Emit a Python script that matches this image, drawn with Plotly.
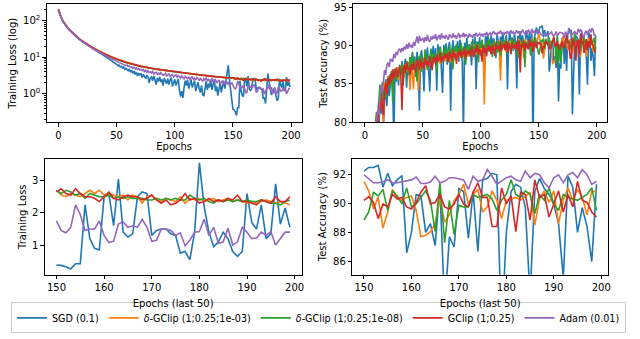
import plotly.graph_objects as go

epochs = list(range(200))
last_epochs = list(range(150, 200))

names = ["SGD (0.1)", "<i>δ</i>-GClip (1;0.25;1e-03)", "<i>δ</i>-GClip (1;0.25;1e-08)",
         "GClip (1;0.25)", "Adam (0.01)"]
colors = ["#1f77b4", "#ff7f0e", "#2ca02c", "#d62728", "#9467bd"]

# training loss, epochs 0-149
sgd_loss_first = [
    190, 152, 124, 106, 92, 82, 74, 67, 61, 56.5,
    52, 48.5, 45, 42, 39.5, 37, 34.5, 32.5, 30.5, 29,
    27.5, 26, 24.8, 23.6, 22.5, 21.4, 20.4, 19.5, 18.6, 17.8,
    17, 16.2, 15.5, 14.8, 14.2, 13.5, 13, 12.3, 11.9, 11.2,
    10.8, 10.1, 9.8, 9.1, 8.8, 8.2, 8.0, 7.3, 7.2, 6.6,
    6.5, 5.9, 6.1, 5.5, 5.7, 5.1, 5.4, 4.7, 5.0, 4.6,
    4.3, 4.8, 3.9, 4.4, 3.6, 4.2, 3.4, 3.9, 3.1, 3.7,
    3.3, 3.6, 2.8, 3.4, 3.0, 2.6, 3.3, 2.9, 2.0, 2.7,
    2.9, 2.3, 3.1, 2.5, 1.8, 2.7, 2.2, 2.9, 2.1, 2.5,
    1.7, 2.7, 2.3, 1.9, 2.6, 1.8, 2.4, 2.8, 1.6, 2.2,
    2.5, 1.7, 2.0, 2.6, 1.3, 0.85, 1.2, 0.78, 1.5, 2.3,
    1.7, 2.4, 1.4, 2.0, 2.5, 1.5, 1.9, 2.3, 1.2, 1.8,
    2.1, 1.4, 1.1, 1.7, 0.95, 0.88, 1.5, 2.2, 1.3, 1.9,
    1.5, 2.4, 1.3, 1.7, 2.5, 1.2, 1.6, 0.9, 1.4, 2.0,
    1.1, 1.8, 2.3, 1.4, 2.6, 4.2, 6.0, 2.4, 1.1, 0.7]
dgc3_loss_first = [
    201, 161, 131, 111, 97, 85.5, 76.5, 69.5, 63.5, 58.5,
    54.3, 50.3, 46.8, 43.7, 40.8, 38.2, 35.7, 33.6, 31.6, 29.9,
    28.3, 26.9, 25.5, 24.3, 23.2, 22.1, 21.1, 20.2, 19.3, 18.5,
    17.7, 17.0, 16.3, 15.7, 15.1, 14.5, 14.0, 13.5, 13.0, 12.6,
    12.2, 11.8, 11.4, 11.0, 10.7, 10.4, 10.1, 9.8, 9.5, 9.2,
    9.0, 8.7, 8.5, 8.3, 8.1, 7.9, 7.7, 7.5, 7.3, 7.15,
    7.0, 6.85, 6.7, 6.55, 6.45, 6.3, 6.2, 6.1, 6.0, 5.9,
    5.8, 5.7, 5.6, 5.52, 5.44, 5.37, 5.29, 5.22, 5.15, 5.08,
    5.01, 4.94, 4.88, 4.82, 4.77, 4.71, 4.66, 4.61, 4.56, 4.51,
    4.47, 4.42, 4.38, 4.33, 4.29, 4.25, 4.21, 4.17, 4.13, 4.09,
    4.06, 4.0, 3.97, 3.92, 3.89, 3.84, 3.81, 3.77, 3.74, 3.7,
    3.67, 3.63, 3.6, 3.56, 3.54, 3.5, 3.47, 3.44, 3.42, 3.38,
    3.36, 3.32, 3.3, 3.26, 3.24, 3.21, 3.19, 3.16, 3.13, 3.11,
    3.08, 3.06, 3.03, 3.01, 2.98, 2.96, 2.94, 2.92, 2.9, 2.88,
    2.86, 2.84, 2.82, 2.8, 2.78, 2.77, 2.75, 2.74, 2.72, 2.7]
dgc8_loss_first = [
    198, 158, 129, 109, 95, 84, 75.5, 68.5, 62.5, 57.8,
    53.6, 49.8, 46.3, 43.2, 40.4, 37.8, 35.4, 33.3, 31.3, 29.7,
    28.1, 26.7, 25.3, 24.1, 23.0, 21.9, 20.9, 20.0, 19.1, 18.3,
    17.5, 16.8, 16.1, 15.5, 14.9, 14.3, 13.8, 13.3, 12.8, 12.4,
    12.0, 11.6, 11.2, 10.8, 10.5, 10.2, 9.9, 9.6, 9.3, 9.1,
    8.8, 8.6, 8.3, 8.1, 7.9, 7.7, 7.5, 7.35, 7.2, 7.05,
    6.9, 6.75, 6.6, 6.45, 6.35, 6.25, 6.1, 6.0, 5.9, 5.8,
    5.7, 5.6, 5.52, 5.45, 5.36, 5.3, 5.22, 5.15, 5.08, 5.02,
    4.95, 4.9, 4.83, 4.78, 4.72, 4.68, 4.62, 4.57, 4.52, 4.48,
    4.43, 4.38, 4.34, 4.3, 4.26, 4.22, 4.18, 4.14, 4.1, 4.06,
    4.02, 3.99, 3.94, 3.91, 3.86, 3.83, 3.79, 3.75, 3.71, 3.68,
    3.64, 3.61, 3.57, 3.55, 3.51, 3.48, 3.45, 3.42, 3.39, 3.37,
    3.33, 3.31, 3.27, 3.25, 3.22, 3.19, 3.17, 3.14, 3.12, 3.09,
    3.07, 3.04, 3.02, 2.99, 2.97, 2.95, 2.93, 2.9, 2.89, 2.86,
    2.85, 2.82, 2.81, 2.79, 2.77, 2.75, 2.74, 2.72, 2.71, 2.69]
gclip_loss_first = [
    200, 160, 130, 110, 96, 85, 76, 69, 63, 58,
    54, 50, 46.5, 43.5, 40.5, 38, 35.5, 33.5, 31.5, 29.8,
    28.2, 26.8, 25.4, 24.2, 23.1, 22, 21, 20.1, 19.2, 18.4,
    17.6, 16.9, 16.2, 15.6, 15, 14.4, 13.9, 13.4, 12.9, 12.5,
    12.1, 11.7, 11.3, 10.9, 10.6, 10.3, 10, 9.7, 9.4, 9.1,
    8.9, 8.6, 8.4, 8.2, 8, 7.8, 7.6, 7.4, 7.25, 7.1,
    6.95, 6.8, 6.65, 6.5, 6.4, 6.3, 6.15, 6.05, 5.95, 5.85,
    5.75, 5.65, 5.55, 5.5, 5.4, 5.35, 5.25, 5.2, 5.1, 5.05,
    4.98, 4.92, 4.86, 4.8, 4.75, 4.7, 4.64, 4.6, 4.55, 4.5,
    4.45, 4.4, 4.36, 4.32, 4.28, 4.24, 4.2, 4.16, 4.12, 4.08,
    4.05, 3.98, 3.96, 3.9, 3.88, 3.82, 3.8, 3.76, 3.72, 3.7,
    3.65, 3.63, 3.58, 3.56, 3.52, 3.5, 3.45, 3.44, 3.4, 3.38,
    3.34, 3.32, 3.28, 3.27, 3.22, 3.21, 3.17, 3.16, 3.12, 3.1,
    3.07, 3.06, 3.02, 3.0, 2.97, 2.96, 2.92, 2.92, 2.88, 2.87,
    2.84, 2.84, 2.8, 2.8, 2.77, 2.76, 2.74, 2.72, 2.71, 2.68]
adam_loss_first = [
    195, 156, 127, 108, 94, 83, 75, 68, 62, 57,
    52.5, 48.5, 45, 42, 39.3, 36.8, 34.4, 32.3, 30.4, 28.7,
    27.2, 25.8, 24.5, 23.3, 22.2, 21.1, 20.1, 19.2, 18.3, 17.5,
    16.8, 16.0, 15.4, 14.7, 14.1, 13.6, 13.0, 12.5, 12.0, 11.6,
    11.1, 10.8, 10.3, 10.0, 9.6, 9.3, 8.9, 8.7, 8.3, 8.1,
    7.7, 7.6, 7.2, 7.1, 6.7, 6.8, 6.3, 6.4, 5.9, 6.1,
    5.6, 5.8, 5.3, 5.5, 5.0, 5.3, 4.8, 5.1, 4.6, 4.9,
    4.5, 4.7, 4.3, 4.6, 4.1, 4.4, 3.9, 4.3, 3.8, 4.0,
    3.7, 4.1, 3.5, 3.8, 3.9, 3.4, 3.7, 3.3, 3.8, 3.5,
    3.2, 3.4, 3.6, 3.1, 3.3, 3.5, 3.0, 3.2, 3.4, 2.9,
    3.1, 3.3, 2.8, 3.2, 3.0, 2.7, 3.1, 2.9, 2.6, 3.0,
    2.8, 2.6, 2.9, 2.5, 2.7, 3.0, 2.5, 2.7, 2.4, 2.8,
    2.6, 2.3, 2.7, 2.5, 2.2, 2.6, 2.4, 2.8, 2.3, 2.5,
    2.2, 2.4, 2.6, 2.1, 2.3, 2.5, 2.0, 2.2, 2.4, 1.9,
    2.1, 2.3, 1.8, 2.0, 2.2, 1.9, 2.1, 1.7, 1.9, 2.0]

# training loss, last 50 epochs
sgd_loss_last = [
    0.38, 0.37, 0.33, 0.26, 0.42, 0.42, 2.25, 1.2, 0.9, 0.85,
    2.5, 2.6, 1.6, 3.05, 1.4, 1.25, 1.35, 2.5, 2.65, 2.6,
    1.3, 1.45, 1.5, 1.5, 1.35, 1.3, 0.75, 0.8, 0.55, 1.4,
    3.55, 2.2, 1.4, 0.95, 1.1, 1.4, 1.2, 0.8, 0.65, 0.8,
    2.6, 1.7, 1.5, 2.25, 1.2, 1.35, 2.9, 1.65, 2.15, 1.55]
dgc3_loss_last = [
    2.7, 2.55, 2.5, 2.6, 2.55, 2.5, 2.6, 2.7, 2.6, 2.7,
    2.55, 2.6, 2.55, 2.5, 2.55, 2.4, 2.55, 2.5, 2.3, 2.5,
    2.55, 2.4, 2.35, 2.45, 2.4, 2.35, 2.5, 2.3, 2.45, 2.4,
    2.45, 2.35, 2.4, 2.45, 2.35, 2.4, 2.45, 2.35, 2.4, 2.35,
    2.3, 2.35, 2.3, 2.35, 2.4, 2.35, 2.3, 2.35, 2.3, 2.25]
dgc8_loss_last = [
    2.7, 2.6, 2.7, 2.65, 2.55, 2.6, 2.45, 2.6, 2.55, 2.5,
    2.5, 2.55, 2.45, 2.5, 2.45, 2.5, 2.45, 2.45, 2.45, 2.4,
    2.4, 2.45, 2.4, 2.45, 2.4, 2.45, 2.4, 2.4, 2.55, 2.45,
    2.4, 2.45, 2.35, 2.3, 2.4, 2.35, 2.4, 2.35, 2.4, 2.35,
    2.4, 2.35, 2.35, 2.4, 2.35, 2.3, 2.3, 2.25, 2.35, 2.4]
gclip_loss_last = [
    2.65, 2.75, 2.6, 2.55, 2.75, 2.6, 2.5, 2.5, 2.45, 2.35,
    2.5, 2.65, 2.45, 2.4, 2.5, 2.55, 2.5, 2.5, 2.4, 2.45,
    2.55, 2.4, 2.3, 2.4, 2.25, 2.3, 2.4, 2.6, 2.4, 2.45,
    2.3, 2.35, 2.45, 2.35, 2.4, 2.35, 2.45, 2.4, 2.55, 2.35,
    2.35, 2.3, 2.25, 2.4, 2.35, 2.3, 2.5, 2.35, 2.35, 2.5]
adam_loss_last = [
    1.75, 1.45, 1.38, 1.55, 2.25, 1.95, 1.45, 1.5, 1.5, 1.75,
    1.3, 1.08, 1.12, 1.65, 1.72, 1.55, 1.6, 1.55, 1.8, 1.55,
    1.12, 1.15, 1.5, 1.5, 1.45, 1.3, 1.38, 0.98, 1.15, 1.4,
    1.42, 1.8, 1.3, 1.55, 1.05, 1.1, 1.52, 1.0, 1.1, 1.55,
    1.4, 1.2, 1.22, 1.4, 1.3, 1.42, 1.0, 1.2, 1.4, 1.4]

# test accuracy, epochs 0-149
sgd_acc_first = [
    35, 52, 60, 66, 70, 73, 75, 76.5, 77.5, 78.5,
    79.2, 80.6, 78.9, 82.3, 81.1, 84.2, 79.5, 83.0, 85.6, 82.1,
    86.0, 83.4, 85.2, 86.6, 84.1, 77.5, 86.9, 85.3, 87.2, 84.8,
    87.5, 86.2, 88.0, 85.7, 87.4, 88.3, 84.5, 87.9, 86.6, 88.5,
    87.1, 89.0, 86.8, 88.6, 85.9, 89.2, 87.6, 81.5, 88.7, 89.4,
    87.3, 84.0, 89.5, 88.1, 89.8, 87.0, 84.0, 89.6, 88.4, 90.0,
    87.8, 89.7, 84.1, 90.2, 88.6, 89.9, 87.2, 83.8, 90.1, 88.9,
    90.3, 87.5, 89.8, 90.5, 81.5, 89.4, 90.7, 88.3, 90.0, 89.2,
    90.6, 87.9, 90.8, 89.5, 88.0, 78.5, 90.4, 89.1, 91.0, 88.6,
    90.2, 89.7, 87.4, 90.9, 89.0, 91.2, 84.3, 90.5, 89.8, 91.1,
    88.7, 90.7, 89.4, 86.0, 91.3, 90.0, 91.6, 89.2, 90.8, 91.4,
    89.5, 91.0, 90.3, 88.4, 91.5, 90.6, 89.1, 91.2, 90.4, 91.7,
    89.8, 90.9, 91.4, 84.3, 90.5, 91.8, 90.1, 91.1, 89.3, 91.6,
    90.4, 84.4, 91.3, 90.7, 91.9, 89.6, 91.4, 90.2, 88.5, 92.0,
    91.2, 90.5, 91.8, 89.4, 91.6, 76.0, 90.9, 91.7, 92.4, 91.5]
dgc3_acc_first = [
    28, 46, 55, 61, 66, 69.5, 72, 74, 76, 77.5,
    78.6, 79.4, 80.8, 83.5, 84.6, 82.4, 79.8, 85.3, 83.7, 84.9,
    86.0, 84.8, 85.6, 86.4, 85.1, 86.9, 85.7, 86.3, 87.2, 85.5,
    86.8, 87.4, 86.2, 87.0, 85.9, 87.6, 86.5, 87.8, 86.7, 84.2,
    87.3, 86.4, 84.3, 87.7, 86.9, 88.0, 84.1, 87.1, 88.2, 87.5,
    86.8, 88.4, 87.6, 88.1, 86.9, 88.6, 87.8, 88.3, 87.2, 88.8,
    88.0, 88.5, 87.4, 89.0, 88.2, 87.6, 89.2, 88.4, 88.9, 87.9,
    89.1, 88.3, 89.4, 88.7, 87.8, 89.5, 88.6, 89.2, 88.1, 89.7,
    88.8, 89.3, 88.4, 89.9, 89.0, 88.5, 89.6, 89.1, 89.8, 88.6,
    89.4, 90.0, 88.9, 89.7, 90.2, 89.3, 88.8, 90.1, 89.5, 90.3,
    89.0, 89.8, 89.8, 82.3, 89.6, 90.0, 89.3, 90.5, 89.7, 88.9,
    90.2, 89.6, 90.6, 89.2, 90.0, 90.7, 89.5, 85.4, 90.3, 89.8,
    90.5, 89.4, 89.2, 90.6, 90.1, 89.7, 90.8, 89.9, 90.3, 89.5,
    90.7, 90.0, 89.6, 90.9, 90.2, 89.8, 90.5, 88.4, 90.8, 90.1,
    89.7, 90.6, 90.3, 89.9, 91.0, 90.4, 89.8, 90.7, 90.2, 90.9]
dgc8_acc_first = [
    32, 50, 59, 65, 69, 72, 74.5, 76.5, 78, 79.6,
    81.3, 80.4, 82.8, 84.9, 83.1, 85.2, 82.7, 84.4, 83.0, 85.6,
    84.2, 86.1, 85.0, 86.7, 82.6, 86.2, 87.0, 85.4, 86.8, 85.9,
    87.2, 86.3, 87.6, 84.8, 87.0, 86.5, 88.0, 87.3, 86.1, 88.5,
    87.1, 89.2, 86.9, 88.1, 87.5, 85.3, 88.6, 87.8, 88.9, 86.6,
    88.3, 87.4, 89.5, 87.9, 86.8, 88.7, 88.2, 89.6, 87.3, 88.8,
    89.0, 88.1, 86.5, 89.4, 88.5, 89.8, 87.7, 89.1, 88.4, 89.9,
    88.6, 89.3, 87.8, 90.1, 88.9, 89.5, 86.9, 89.8, 89.2, 90.2,
    88.7, 89.6, 89.1, 90.4, 88.2, 89.9, 89.4, 87.5, 90.3, 89.0,
    89.8, 88.6, 90.5, 89.3, 90.0, 88.9, 90.6, 89.5, 87.8, 90.4,
    89.7, 90.8, 89.2, 90.1, 88.8, 90.5, 89.6, 90.9, 89.4, 90.2,
    88.5, 90.7, 89.9, 90.3, 89.1, 90.6, 90.0, 88.6, 90.8, 89.7,
    90.4, 89.5, 90.9, 88.9, 90.5, 90.0, 89.3, 91.0, 90.2, 89.6,
    90.7, 89.8, 88.4, 90.6, 90.1, 89.5, 90.9, 90.3, 87.2, 90.5,
    89.9, 90.6, 90.2, 88.7, 90.8, 90.1, 89.6, 91.1, 90.4, 89.9]
gclip_acc_first = [
    30, 48, 57, 63, 67, 70, 73, 75, 77, 78.5,
    79.5, 79.2, 82.5, 81.4, 83.8, 82.1, 80.9, 84.2, 85.1, 83.6,
    85.8, 84.9, 86.3, 85.2, 86.9, 85.7, 86.4, 87.1, 85.9, 86.6,
    87.3, 86.1, 81.6, 86.8, 87.5, 86.4, 87.9, 86.9, 87.2, 86.2,
    87.6, 86.8, 87.9, 87.1, 86.5, 88.1, 87.4, 86.9, 88.3, 87.2,
    87.8, 86.9, 88.4, 87.5, 88.0, 87.2, 88.6, 87.7, 86.8, 88.3,
    88.5, 87.6, 88.8, 87.9, 88.2, 89.1, 87.8, 88.6, 88.1, 89.0,
    88.4, 88.9, 87.9, 89.2, 88.6, 88.1, 89.4, 88.5, 89.0, 87.6,
    89.1, 88.7, 89.5, 88.4, 89.2, 88.8, 89.6, 88.3, 89.3, 88.9,
    89.4, 88.6, 89.8, 89.0, 88.5, 89.6, 89.2, 90.1, 88.8, 89.5,
    89.3, 87.9, 90.0, 89.1, 89.7, 88.6, 90.2, 89.4, 89.9, 88.9,
    90.1, 89.5, 88.7, 90.3, 89.6, 90.0, 89.2, 90.5, 89.4, 89.9,
    90.2, 89.5, 90.6, 89.1, 90.3, 89.8, 88.9, 90.4, 89.7, 90.1,
    89.6, 90.5, 89.3, 90.7, 86.5, 90.2, 89.8, 90.6, 89.4, 90.3,
    90.0, 89.5, 90.8, 89.9, 90.4, 89.2, 90.6, 90.1, 89.7, 90.5]
adam_acc_first = [
    38, 55, 63, 68, 72, 74.5, 76, 77.5, 78.5, 79.3,
    80.2, 81.5, 81.0, 83.2, 84.8, 83.9, 85.9, 86.8, 86.2, 87.5,
    87.8, 87.2, 88.3, 88.1, 87.9, 88.9, 88.4, 89.2, 88.8, 89.4,
    89.6, 89.1, 89.7, 89.3, 89.9, 89.5, 90.2, 89.6, 90.4, 89.8,
    90.1, 89.7, 90.5, 90.0, 90.7, 91.2, 90.3, 91.3, 90.6, 90.9,
    91.0, 90.4, 91.1, 90.6, 91.4, 90.7, 90.5, 91.2, 90.8, 91.3,
    90.9, 91.5, 90.7, 91.1, 91.4, 90.8, 91.6, 91.0, 91.3, 90.9,
    91.4, 91.1, 90.8, 91.5, 91.2, 91.0, 91.6, 91.1, 91.4, 90.9,
    91.3, 91.6, 91.0, 91.4, 91.2, 91.7, 91.1, 91.5, 91.3, 91.0,
    91.6, 91.2, 91.4, 91.0, 91.5, 91.3, 91.7, 91.2, 91.4, 91.6,
    91.3, 91.5, 91.2, 91.6, 91.4, 91.8, 91.3, 91.5, 91.7, 91.4,
    91.6, 91.9, 91.5, 91.7, 91.3, 91.8, 91.6, 92.0, 91.5, 91.7,
    91.4, 91.8, 91.6, 91.9, 91.5, 91.7, 92.0, 91.6, 91.8, 91.5,
    91.7, 92.0, 91.6, 91.9, 91.4, 91.8, 92.1, 91.7, 91.5, 91.9,
    91.6, 92.1, 91.8, 91.5, 92.2, 91.7, 91.9, 91.6, 92.0, 91.8]

# test accuracy, last 50 epochs
sgd_acc_last = [
    92.2, 92.45, 92.45, 92.6, 91.1, 92.05, 91.2, 91.6, 91.9, 86.6,
    88.0, 90.6, 90.5, 88.0, 88.6, 87.1, 91.1, 82.7, 87.7, 87.0,
    91.0, 90.8, 87.6, 90.8, 86.7, 91.6, 91.7, 92.05, 91.95, 81.0,
    88.0, 90.8, 91.3, 91.1, 89.7, 83.6, 90.8, 91.7, 91.0, 90.6,
    89.9, 88.6, 84.9, 91.85, 91.1, 88.0, 89.7, 88.4, 86.0, 91.3]
dgc3_acc_last = [
    91.5, 90.85, 89.6, 90.4, 88.3, 89.4, 90.95, 90.3, 90.2, 90.4,
    90.5, 89.5, 87.7, 87.8, 88.05, 88.6, 90.3, 88.7, 89.2, 90.2,
    90.6, 91.3, 89.95, 90.6, 90.95, 89.4, 89.75, 90.85, 90.2, 88.95,
    90.2, 90.3, 90.4, 90.2, 90.5, 90.75, 88.5, 90.3, 90.85, 90.05,
    90.85, 88.6, 90.2, 91.05, 90.2, 90.95, 90.4, 89.2, 90.85, 90.75]
dgc8_acc_last = [
    88.85, 89.4, 90.75, 90.5, 90.95, 89.5, 90.85, 90.5, 89.95, 91.05,
    89.75, 89.95, 90.4, 90.85, 90.2, 88.05, 91.4, 87.3, 90.2, 87.85,
    89.85, 89.75, 89.75, 90.6, 90.4, 90.5, 90.6, 90.3, 89.5, 90.2,
    90.6, 91.6, 90.6, 90.4, 90.85, 90.6, 89.3, 90.6, 90.2, 91.05,
    89.95, 89.5, 90.6, 90.4, 90.3, 90.2, 90.4, 90.6, 91.05, 89.5]
gclip_acc_last = [
    90.2, 90.45, 90.05, 88.95, 89.95, 89.75, 90.6, 90.3, 90.4, 89.75,
    89.6, 90.05, 90.75, 91.2, 89.95, 90.05, 90.6, 89.75, 89.6, 89.95,
    90.6, 89.95, 89.75, 90.75, 91.4, 90.4, 90.4, 88.4, 88.4, 91.05,
    89.95, 90.5, 88.05, 90.75, 90.6, 88.85, 91.6, 90.4, 90.6, 89.05,
    89.95, 90.85, 89.4, 90.6, 89.75, 91.5, 90.2, 90.05, 89.4, 89.05]
adam_acc_last = [
    91.95, 91.7, 91.4, 91.4, 91.45, 91.6, 91.4, 91.4, 91.45, 91.5,
    91.6, 91.8, 91.35, 91.35, 91.45, 91.85, 91.4, 91.5, 91.75, 91.75,
    91.7, 91.6, 90.95, 91.85, 91.5, 91.6, 92.3, 91.85, 91.3, 91.5,
    91.75, 91.85, 91.6, 91.5, 92.2, 91.75, 92.05, 91.95, 91.4, 91.05,
    91.75, 91.95, 91.4, 91.95, 92.1, 91.75, 92.3, 91.95, 91.3, 91.5]

loss_first = [sgd_loss_first, dgc3_loss_first, dgc8_loss_first, gclip_loss_first, adam_loss_first]
loss_last = [sgd_loss_last, dgc3_loss_last, dgc8_loss_last, gclip_loss_last, adam_loss_last]
acc_first = [sgd_acc_first, dgc3_acc_first, dgc8_acc_first, gclip_acc_first, adam_acc_first]
acc_last = [sgd_acc_last, dgc3_acc_last, dgc8_acc_last, gclip_acc_last, adam_acc_last]

fig = go.Figure()
for i in range(5):
    line = dict(color=colors[i], width=1.6)
    fig.add_trace(go.Scatter(x=epochs, y=loss_first[i] + loss_last[i], mode="lines", line=line,
                             name=names[i], xaxis="x", yaxis="y"))
    fig.add_trace(go.Scatter(x=epochs, y=acc_first[i] + acc_last[i], mode="lines", line=line,
                             showlegend=False, xaxis="x2", yaxis="y2"))
    fig.add_trace(go.Scatter(x=last_epochs, y=loss_last[i], mode="lines", line=line,
                             showlegend=False, xaxis="x3", yaxis="y3"))
    fig.add_trace(go.Scatter(x=last_epochs, y=acc_last[i], mode="lines", line=line,
                             showlegend=False, xaxis="x4", yaxis="y4"))

W, H = 640, 339

def ax(**kw):
    d = dict(showline=True, mirror=True, linecolor="black", linewidth=1, ticks="outside",
             ticklen=3.5, tickwidth=1, tickcolor="black", showgrid=False, zeroline=False,
             tickfont=dict(size=10, color="black"))
    d.update(kw)
    return d

minor_log = [m * 10 ** k for k in (-1, 0, 1, 2) for m in range(2, 10) if 0.17 < m * 10 ** k < 270]

fig.update_layout(
    width=W, height=H,
    margin=dict(l=0, r=0, t=0, b=0),
    paper_bgcolor="white", plot_bgcolor="white",
    font=dict(family="DejaVu Sans", size=10, color="black"),
    xaxis=ax(domain=[47 / W, 303 / W], anchor="y", range=[-9.95, 208.95],
             tickvals=[0, 50, 100, 150, 200],
             title=dict(text="Epochs", standoff=2, font=dict(size=10))),
    yaxis=ax(domain=[1 - 123 / H, 1 - 2.5 / H], anchor="x", type="log", range=[-0.765, 2.435],
             tickvals=[1, 10, 100], ticktext=["10<sup>0</sup>", "10<sup>1</sup>", "10<sup>2</sup>"],
             minor=dict(tickvals=minor_log, ticks="outside", ticklen=2, tickcolor="black"),
             title=dict(text="Training Loss (log)", standoff=4, font=dict(size=10))),
    xaxis2=ax(domain=[355 / W, 610 / W], anchor="y2", range=[-9.95, 208.95],
              tickvals=[0, 50, 100, 150, 200],
              title=dict(text="Epochs", standoff=2, font=dict(size=10))),
    yaxis2=ax(domain=[1 - 123 / H, 1 - 2.5 / H], anchor="x2", range=[80, 95.4],
              tickvals=[80, 85, 90, 95],
              title=dict(text="Test Accuracy (%)", standoff=4, font=dict(size=10))),
    xaxis3=ax(domain=[45 / W, 303 / W], anchor="y3", range=[147.55, 201.45],
              tickvals=[150, 160, 170, 180, 190, 200],
              title=dict(text="Epochs (last 50)", standoff=7, font=dict(size=10))),
    yaxis3=ax(domain=[1 - 279.3 / H, 1 - 160.5 / H], anchor="x3", range=[0.08, 3.68],
              tickvals=[1, 2, 3],
              title=dict(text="Training Loss", standoff=3, font=dict(size=10))),
    xaxis4=ax(domain=[354 / W, 611 / W], anchor="y4", range=[147.55, 201.45],
              tickvals=[150, 160, 170, 180, 190, 200],
              title=dict(text="Epochs (last 50)", standoff=7, font=dict(size=10))),
    yaxis4=ax(domain=[1 - 279.3 / H, 1 - 160.5 / H], anchor="x4", range=[85.1, 93.05],
              tickvals=[86, 88, 90, 92],
              title=dict(text="Test Accuracy (%)", standoff=4, font=dict(size=10))),
    legend=dict(orientation="h", x=0.5, xanchor="center", y=1 - 323.5 / H, yanchor="middle",
                bordercolor="#cccccc", borderwidth=1, font=dict(size=9.6), bgcolor="white"),
)

fig.write_html("out.html", config={"displayModeBar": False},
               post_script="document.body.style.margin='0px';")
